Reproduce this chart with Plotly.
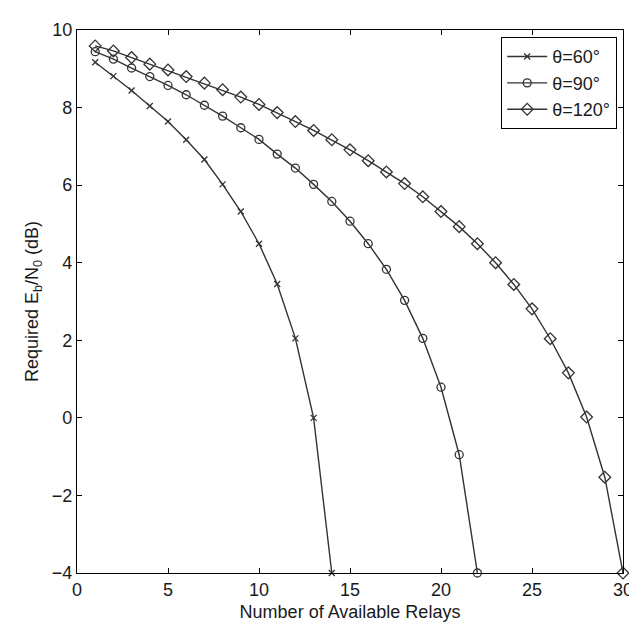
import plotly.graph_objects as go

relays_60 = list(range(1, 15))
ebn0_60 = [9.17, 8.81, 8.44, 8.04, 7.64, 7.17, 6.66, 6.02, 5.32, 4.49, 3.45, 2.05, 0.0, -4.0]

relays_90 = list(range(1, 23))
ebn0_90 = [9.44, 9.25, 9.02, 8.80, 8.57, 8.33, 8.06, 7.78, 7.48, 7.18, 6.80, 6.44,
           6.02, 5.58, 5.07, 4.49, 3.83, 3.03, 2.05, 0.79, -0.95, -4.0]

relays_120 = list(range(1, 31))
ebn0_120 = [9.59, 9.46, 9.29, 9.12, 8.97, 8.80, 8.63, 8.46, 8.27, 8.08, 7.87, 7.64,
            7.41, 7.17, 6.91, 6.63, 6.34, 6.04, 5.70, 5.32, 4.93, 4.49, 4.00, 3.44,
            2.81, 2.04, 1.16, 0.02, -1.53, -4.0]

names = ["θ=60°", "θ=90°", "θ=120°"]
x_ticks = [0, 5, 10, 15, 20, 25, 30]
y_ticks = [-4, -2, 0, 2, 4, 6, 8, 10]

col = "#333333"
txt = "#1a1a1a"
fnt = "Liberation Sans, Arial"
fig = go.Figure()
series = [
    (relays_60, ebn0_60, "x-thin-open", 6),
    (relays_90, ebn0_90, "circle-open", 8),
    (relays_120, ebn0_120, "diamond-open", 9),
]
for (xs, ys, sym, sz), nm in zip(series, names):
    fig.add_trace(go.Scatter(
        x=xs, y=ys, mode="lines+markers", name=nm,
        line=dict(color=col, width=1.4),
        marker=dict(symbol=sym, size=sz, color=col, line=dict(color=col, width=1.3)),
        cliponaxis=False,
    ))

axis_common = dict(
    showgrid=False, zeroline=False, showline=True, linecolor="black", linewidth=1.2,
    mirror="ticks", ticks="inside", ticklen=5, tickcolor="black",
    tickfont=dict(family=fnt, size=18, color=txt),
)
fig.update_xaxes(range=[0, 30], tickvals=x_ticks,
                 title=dict(text="Number of Available Relays", standoff=6,
                            font=dict(family=fnt, size=18, color=txt)),
                 **axis_common)
fig.update_yaxes(range=[-4, 10], tickvals=y_ticks,
                 title=dict(text="Required E<sub>b</sub>/N<sub>0</sub> (dB)", standoff=8,
                            font=dict(family=fnt, size=18, color=txt)),
                 **axis_common)

fig.update_layout(
    width=637, height=623,
    margin=dict(l=69, r=15, t=17, b=58),
    paper_bgcolor="white", plot_bgcolor="white",
    legend=dict(x=0.989, y=0.987, xanchor="right", yanchor="top",
                bordercolor="black", borderwidth=1.2, bgcolor="white",
                font=dict(family=fnt, size=18, color=txt),
                tracegroupgap=0, itemwidth=40),
    showlegend=True,
)

fig.write_html("out.html")
